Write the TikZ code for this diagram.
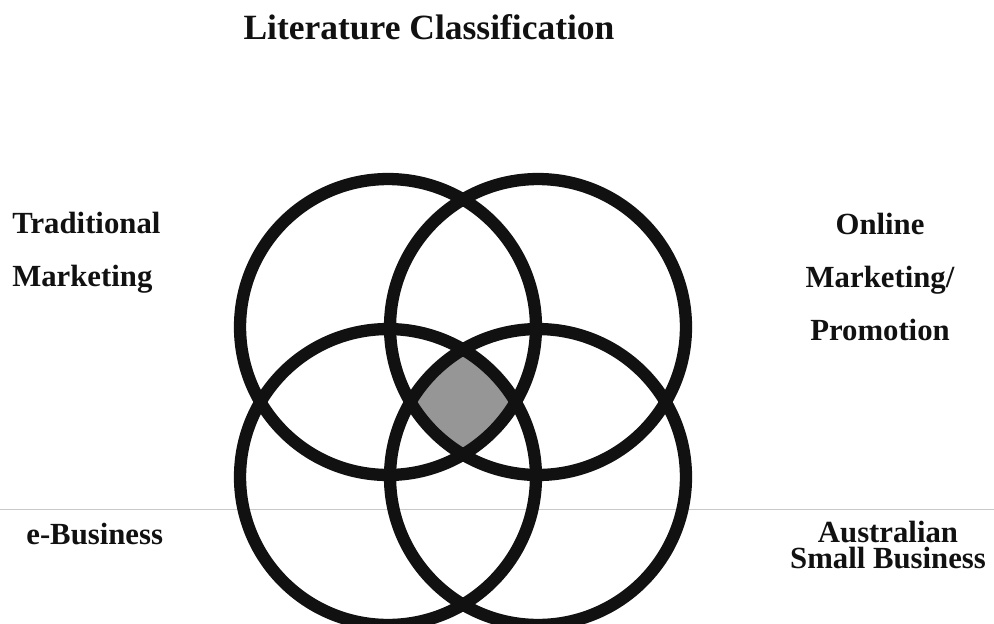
\documentclass[tikz,border=0pt]{standalone}
\usepackage{fontspec}
\setmainfont{Liberation Serif}
\usetikzlibrary{positioning}
\definecolor{ink}{HTML}{111111}
\definecolor{core}{HTML}{969696}
\definecolor{scan}{HTML}{C8C8C8}

\begin{document}
\begin{tikzpicture}[x=0.02cm, y=-0.02cm,
  ring/.style={draw=ink, line width=7pt},
  lbl/.style={font=\fontsize{17.5}{30}\selectfont\bfseries, inner sep=0pt, text=ink},
  ttl/.style={font=\fontsize{20.2}{24}\selectfont\bfseries, inner sep=0pt, text=ink}]
\useasboundingbox (0,0) rectangle (994,623);
% the four sets
\coordinate (tl) at (388,327);
\coordinate (tr) at (538,327);
\coordinate (bl) at (388,477);
\coordinate (br) at (538,477);
\coordinate (lineA) at (0,509);
\coordinate (lineB) at (994,509);
\draw[scan, line width=0.4pt] (lineA) -- (lineB);
% shared core
\begin{scope}
  \clip (tl) circle[radius=2.96cm];
  \clip (tr) circle[radius=2.96cm];
  \clip (bl) circle[radius=2.96cm];
  \fill[core] (br) circle[radius=2.96cm];
\end{scope}
\foreach \c in {tl,tr,bl,br}
  \draw[ring] (\c) circle[radius=2.96cm];
% labels
\node[ttl] (title) at (429,27) {Literature Classification};
\node[lbl, align=left, anchor=west] (trad) at (12,253) {Traditional\\Marketing};
\node[lbl, align=center] (online) at (880,277) {Online\\Marketing/\\Promotion};
\node[lbl, anchor=west] (ebiz) at (26,534) {e-Business};
\node[lbl, align=center, font=\fontsize{17.5}{14.8}\selectfont\bfseries] (asb) at (888,545) {Australian\\Small Business};
\end{tikzpicture}
\end{document}
